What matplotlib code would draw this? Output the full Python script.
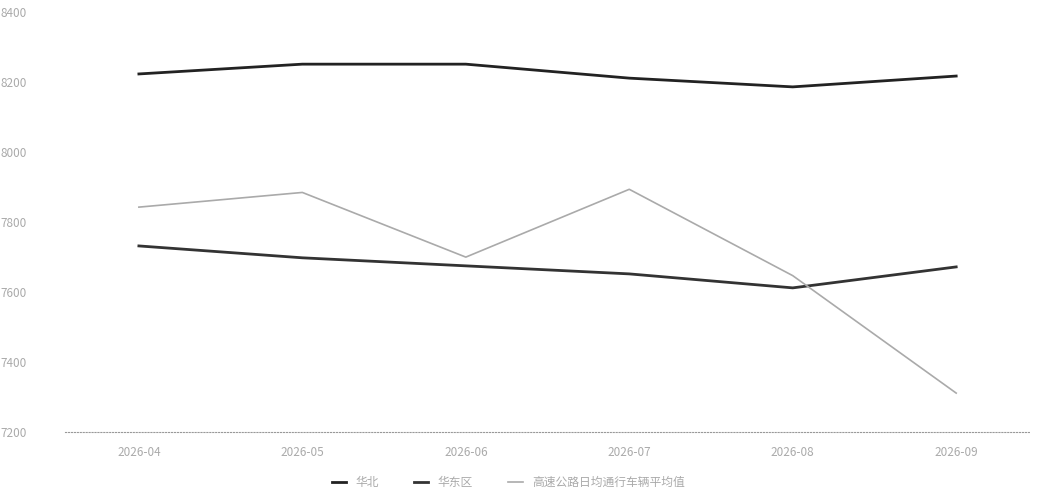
import matplotlib.pyplot as plt

plt.rcParams['font.family'] = ['Noto Sans CJK SC', 'DejaVu Sans']

# 数据
months = ["2026-04", "2026-05", "2026-06", "2026-07", "2026-08", "2026-09"]
series_a = [8224, 8252, 8252, 8212, 8187, 8218]
series_b = [7732, 7698, 7675, 7652, 7612, 7672]
series_c = [7843, 7885, 7700, 7894, 7647, 7311]
names = ["华北", "华东区", "高速公路日均通行车辆平均值"]
yticks = [7200, 7400, 7600, 7800, 8000, 8200, 8400]

fig, ax = plt.subplots(figsize=(10.37, 4.97), dpi=100)
fig.subplots_adjust(left=0.063, right=0.993, top=0.975, bottom=0.131)

x = range(len(months))
ax.plot(x, series_a, color="#222222", lw=2, label=names[0])
ax.plot(x, series_b, color="#333333", lw=2, label=names[1])
ax.plot(x, series_c, color="#aaaaaa", lw=1.2, label=names[2])

ax.set_xlim(-0.45, 5.45)
ax.set_ylim(7200, 8400)
ax.set_xticks(list(x))
ax.set_xticklabels(months)
ax.set_yticks(yticks)

for s in ["top", "right", "left"]:
    ax.spines[s].set_visible(False)
ax.spines["bottom"].set_color("#999999")
ax.spines["bottom"].set_linestyle(":")
ax.tick_params(axis="both", length=0, labelsize=8.5, colors="#aaaaaa", pad=10)
ax.tick_params(axis="y", pad=28)

fig.legend(loc="lower center", bbox_to_anchor=(0.49, 0.0), ncol=3, frameon=False,
           fontsize=8.5, labelcolor="#aaaaaa", handlelength=1.2, columnspacing=3,
           borderaxespad=0.3)

plt.savefig("out.png", dpi=100)
